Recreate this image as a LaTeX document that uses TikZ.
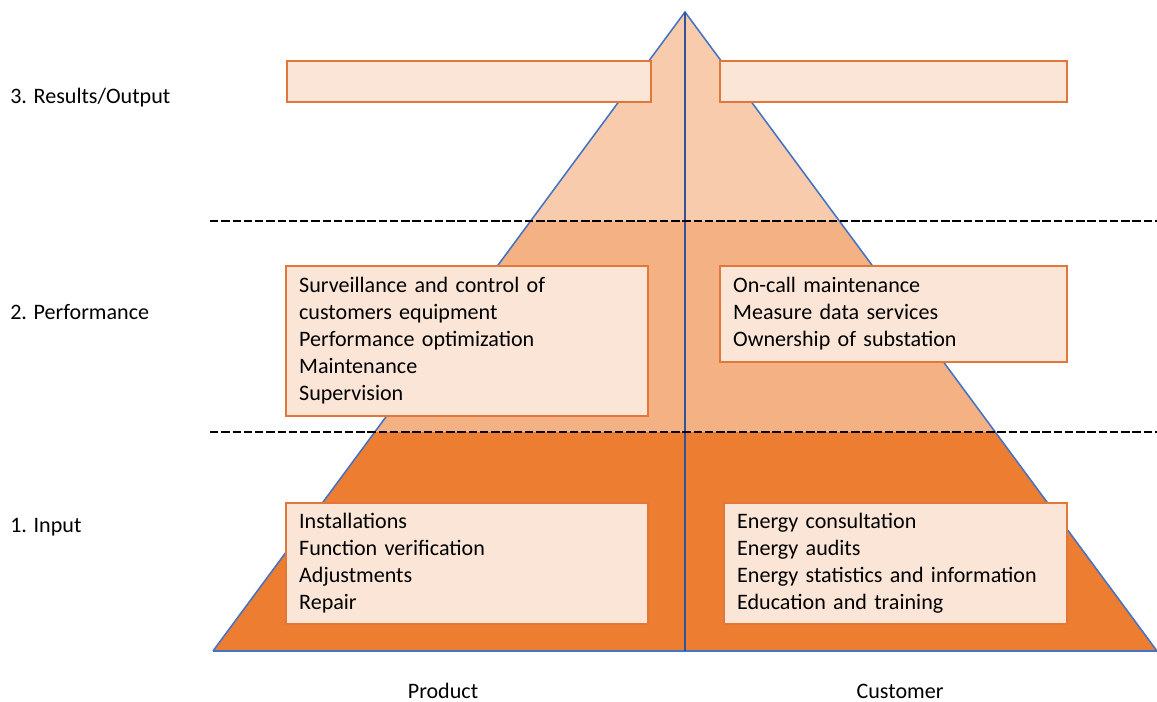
\documentclass[tikz,border=0pt]{standalone}
\usepackage{fontspec}
\setmainfont{Carlito}
\usepackage{xcolor}
\definecolor{lowband}{HTML}{ED7D31}
\definecolor{midband}{HTML}{F4B183}
\definecolor{topband}{HTML}{F8CBAD}
\definecolor{boxfill}{HTML}{FBE5D6}
\definecolor{boxline}{HTML}{E2773A}
\definecolor{edgeblue}{HTML}{4472C4}
\definecolor{axisblue}{HTML}{2F5597}
\newcommand{\pyrfont}{\fontsize{15.7}{19.2}\selectfont}
\tikzset{
  itembox/.style={draw=boxline, fill=boxfill, line width=1pt, align=left,
    inner xsep=0.33cm, inner ysep=0pt, font=\pyrfont},
  levellabel/.style={anchor=west, inner sep=0pt, font=\pyrfont},
  sidelabel/.style={inner sep=0pt, font=\pyrfont},
  levelline/.style={black, line width=2.1pt, dash pattern=on 6pt off 2pt}
}

\begin{document}
\begin{tikzpicture}[x=0.025cm, y=-0.025cm]
\useasboundingbox (0,0) rectangle (1157,702);

\coordinate (apex) at (685,12);
\coordinate (bl) at (213,651);
\coordinate (br) at (1157,651);
\coordinate (bm) at (685,651);

% bands of the pyramid
\begin{scope}
  \clip (apex) -- (bl) -- (br) -- cycle;
  \fill[topband] (200,0) rectangle (1157,221);
  \fill[midband] (200,221) rectangle (1157,432);
  \fill[lowband] (200,432) rectangle (1157,660);
\end{scope}
\draw[edgeblue, line width=1.1pt, line join=miter] (bl) -- (apex) -- (br);
\draw[edgeblue, line width=1.1pt] (bl) -- (br);
\draw[axisblue, line width=0.9pt] (apex) -- (bm);

\coordinate (d2a) at (210,221);
\coordinate (d2b) at (1157,221);
\coordinate (d1a) at (210,432);
\coordinate (d1b) at (1157,432);
\draw[levelline] (d2a) -- (d2b);
\draw[levelline] (d1a) -- (d1b);

% level names
\node[levellabel] (lvl3) at (10,98) {3. Results/Output};
\node[levellabel] (lvl2) at (10,312) {2. Performance};
\node[levellabel] (lvl1) at (10,527) {1. Input};

% boxes
\node[itembox, minimum width=9.1cm, minimum height=1.025cm] (outl) at (469,81.5) {};
\node[itembox, minimum width=8.675cm, minimum height=1.025cm] (outr) at (893.5,81.5) {};

\node[itembox, text width=8.39cm, minimum height=3.75cm] (perfl) at (467,341)
  {Surveillance and control of\\customers equipment\\Performance optimization\\Maintenance\\Supervision};
\node[itembox, text width=8.015cm, minimum height=2.4cm] (perfr) at (893.5,314)
  {On-call maintenance\\Measure data services\\Ownership of substation};

\node[itembox, text width=8.39cm, minimum height=3.025cm] (inl) at (467,563.5)
  {Installations\\Function verification\\Adjustments\\Repair};
\node[itembox, text width=7.915cm, minimum height=3.025cm] (inr) at (895.5,563.5)
  {Energy consultation\\Energy audits\\Energy statistics and information\\Education and training};

\node[sidelabel] (prod) at (443,691) {Product};
\node[sidelabel] (cust) at (900,691) {Customer};
\end{tikzpicture}
\end{document}
